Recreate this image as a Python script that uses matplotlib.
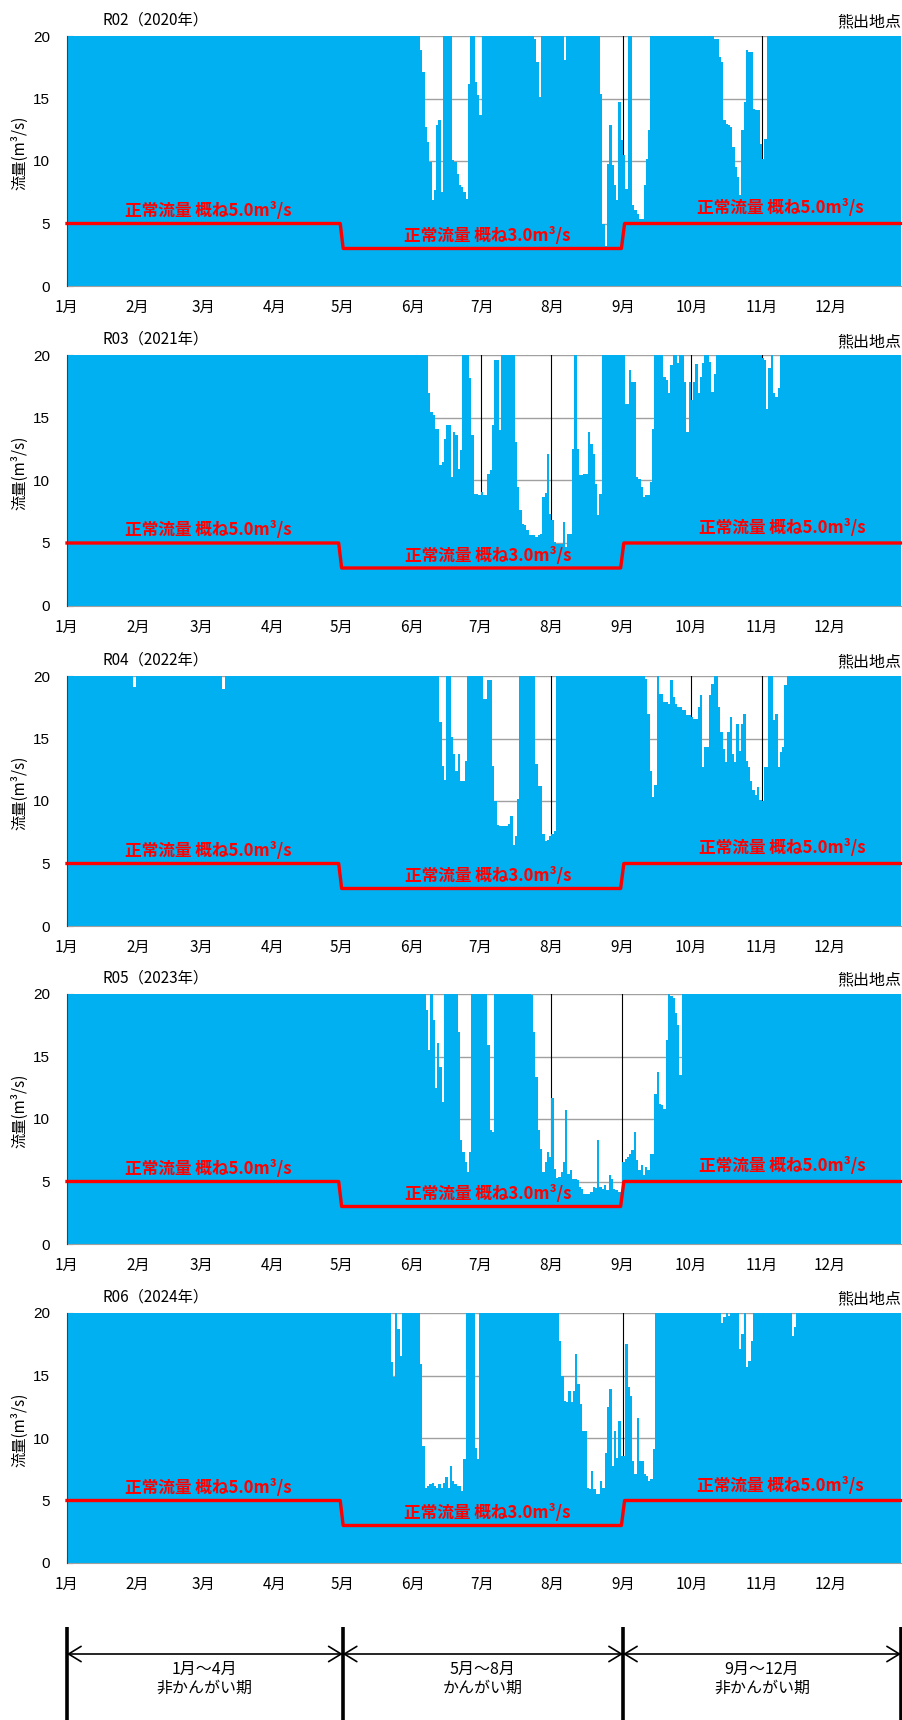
import calendar

import numpy as np
import matplotlib
matplotlib.use("Agg")
import matplotlib.pyplot as plt

plt.rcParams["font.family"] = ["Noto Sans CJK JP", "DejaVu Sans"]

# daily flow at 熊出地点 (m3/s); bars are clipped at 20
FLOW_R02 = [
    # Jan
    20, 20, 20, 20, 20, 20, 20, 20, 20, 20,  20, 20, 20, 20, 20, 20, 20, 20, 20, 20,  20, 20, 20, 20, 20, 20, 20, 20, 20, 20,  20,
    # Feb
    20, 20, 20, 20, 20, 20, 20, 20, 20, 20,  20, 20, 20, 20, 20, 20, 20, 20, 20, 20,  20, 20, 20, 20, 20, 20, 20, 20, 20,
    # Mar
    20, 20, 20, 20, 20, 20, 20, 20, 20, 20,  20, 20, 20, 20, 20, 20, 20, 20, 20, 20,  20, 20, 20, 20, 20, 20, 20, 20, 20, 20,  20,
    # Apr
    20, 20, 20, 20, 20, 20, 20, 20, 20, 20,  20, 20, 20, 20, 20, 20, 20, 20, 20, 20,  20, 20, 20, 20, 20, 20, 20, 20, 20, 20,
    # May
    20, 20, 20, 20, 20, 20, 20, 20, 20, 20,  20, 20, 20, 20, 20, 20, 20, 20, 20, 20,  20, 20, 20, 20, 20, 20, 20, 20, 20, 20,  20,
    # Jun
    20, 20, 20, 18.9, 17.1, 12.7, 11.5, 9.9, 6.9, 7.7,  12.9, 13.3, 7.5, 20, 20, 20, 20, 10.1, 9.9, 9.0,
    8.1, 7.9, 7.5, 7.0, 16.2, 20, 20, 16.3, 15.3, 13.7,
    # Jul
    20, 20, 20, 20, 20, 20, 20, 20, 20, 20,  20, 20, 20, 20, 20, 20, 20, 20, 20, 20,
    20, 20, 20, 19.8, 17.9, 15.1, 20, 20, 20, 20,  20,
    # Aug
    20, 20, 20, 20, 20, 18.1, 20, 20, 20, 20,  20, 20, 20, 20, 20, 20, 20, 20, 20, 20,
    20, 15.4, 5.0, 3.2, 9.8, 12.9, 9.7, 8.1, 6.9, 14.7,  11.7,
    # Sep
    10.5, 7.8, 20, 20, 6.5, 6.1, 5.8, 5.4, 5.4, 8.1,  10.2, 12.5, 20, 20, 20, 20, 20, 20, 20, 20,
    20, 20, 20, 20, 20, 20, 20, 20, 20, 20,
    # Oct
    20, 20, 20, 20, 20, 20, 20, 20, 20, 20,  19.8, 19.8, 18.3, 17.9, 13.3, 13.0, 12.9, 12.7, 11.1, 9.5,
    8.7, 7.3, 12.5, 14.7, 18.9, 18.7, 18.7, 14.2, 14.1, 14.1,  11.4,
    # Nov
    10.2, 11.8, 20, 20, 20, 20, 20, 20, 20, 20,  20, 20, 20, 20, 20, 20, 20, 20, 20, 20,  20, 20, 20, 20, 20, 20, 20, 20, 20, 20,
    # Dec
    20, 20, 20, 20, 20, 20, 20, 20, 20, 20,  20, 20, 20, 20, 20, 20, 20, 20, 20, 20,  20, 20, 20, 20, 20, 20, 20, 20, 20, 20,  20,
]

FLOW_R03 = [
    # Jan
    20, 20, 20, 20, 20, 20, 20, 20, 20, 20,  20, 20, 20, 20, 20, 20, 20, 20, 20, 20,  20, 20, 20, 20, 20, 20, 20, 20, 20, 20,  20,
    # Feb
    20, 20, 20, 20, 20, 20, 20, 20, 20, 20,  20, 20, 20, 20, 20, 20, 20, 20, 20, 20,  20, 20, 20, 20, 20, 20, 20, 20,
    # Mar
    20, 20, 20, 20, 20, 20, 20, 20, 20, 20,  20, 20, 20, 20, 20, 20, 20, 20, 20, 20,  20, 20, 20, 20, 20, 20, 20, 20, 20, 20,  20,
    # Apr
    20, 20, 20, 20, 20, 20, 20, 20, 20, 20,  20, 20, 20, 20, 20, 20, 20, 20, 20, 20,  20, 20, 20, 20, 20, 20, 20, 20, 20, 20,
    # May
    20, 20, 20, 20, 20, 20, 20, 20, 20, 20,  20, 20, 20, 20, 20, 20, 20, 20, 20, 20,  20, 20, 20, 20, 20, 20, 20, 20, 20, 20,  20,
    # Jun
    20, 20, 20, 20, 20, 20, 20, 17.0, 15.5, 15.2,  14.1, 14.1, 11.2, 11.5, 13.3, 14.4, 14.4, 10.3, 13.9, 13.6,
    10.9, 12.4, 20, 20, 20, 18.2, 13.6, 8.9, 8.9, 8.8,
    # Jul
    9.1, 8.8, 8.8, 10.5, 10.8, 14.4, 19.6, 19.6, 14.0, 20,  20, 20, 20, 20, 20, 13.1, 9.5, 7.6, 6.5, 6.4,
    6.0, 5.6, 5.6, 5.6, 5.5, 5.6, 5.7, 8.7, 9.0, 12.1,  7.3,
    # Aug
    6.8, 5.1, 4.9, 4.9, 4.9, 6.7, 4.7, 5.7, 5.7, 12.5,  20, 12.5, 10.4, 10.4, 10.5, 10.5, 13.9, 12.9, 12.1, 9.7,
    7.2, 8.9, 20, 20, 20, 20, 20, 20, 20, 20,  20,
    # Sep
    20, 16.1, 16.1, 18.8, 17.9, 17.9, 10.3, 10.1, 9.5, 8.7,  8.8, 8.8, 9.9, 14.1, 20, 20, 20, 20, 18.3, 18.0,
    17.0, 19.2, 20, 20, 19.4, 20, 20, 17.9, 13.9, 17.9,
    # Oct
    16.4, 17.9, 19.3, 17.0, 18.3, 19.4, 20, 20, 19.5, 17.1,  18.5, 20, 20, 20, 20, 20, 20, 20, 20, 20,
    20, 20, 20, 20, 20, 20, 20, 20, 20, 20,  20,
    # Nov
    19.8, 19.6, 15.7, 19.0, 20, 17.0, 16.7, 17.4, 20, 20,  20, 20, 20, 20, 20, 20, 20, 20, 20, 20,  20, 20, 20, 20, 20, 20, 20, 20, 20, 20,
    # Dec
    20, 20, 20, 20, 20, 20, 20, 20, 20, 20,  20, 20, 20, 20, 20, 20, 20, 20, 20, 20,  20, 20, 20, 20, 20, 20, 20, 20, 20, 20,  20,
]

FLOW_R04 = [
    # Jan
    20, 20, 20, 20, 20, 20, 20, 20, 20, 20,  20, 20, 20, 20, 20, 20, 20, 20, 20, 20,  20, 20, 20, 20, 20, 20, 20, 20, 20, 19.1,  20,
    # Feb
    20, 20, 20, 20, 20, 20, 20, 20, 20, 20,  20, 20, 20, 20, 20, 20, 20, 20, 20, 20,  20, 20, 20, 20, 20, 20, 20, 20,
    # Mar
    20, 20, 20, 20, 20, 20, 20, 20, 20, 19.0,  20, 20, 20, 20, 20, 20, 20, 20, 20, 20,  20, 20, 20, 20, 20, 20, 20, 20, 20, 20,  20,
    # Apr
    20, 20, 20, 20, 20, 20, 20, 20, 20, 20,  20, 20, 20, 20, 20, 20, 20, 20, 20, 20,  20, 20, 20, 20, 20, 20, 20, 20, 20, 20,
    # May
    20, 20, 20, 20, 20, 20, 20, 20, 20, 20,  20, 20, 20, 20, 20, 20, 20, 20, 20, 20,  20, 20, 20, 20, 20, 20, 20, 20, 20, 20,  20,
    # Jun
    20, 20, 20, 20, 20, 20, 20, 20, 20, 20,  20, 20, 16.3, 12.8, 11.7, 20, 20, 15.1, 13.8, 12.4,
    13.8, 11.6, 11.6, 13.2, 20, 20, 20, 20, 20, 20,
    # Jul
    20, 18.2, 18.2, 19.7, 19.7, 12.8, 10.0, 8.1, 8.0, 8.0,  8.0, 8.0, 8.2, 8.8, 6.5, 7.2, 10.2, 20, 20, 20,
    20, 20, 20, 20, 13.0, 11.2, 11.2, 7.4, 6.8, 6.9,  7.2,
    # Aug
    7.4, 7.6, 20, 20, 20, 20, 20, 20, 20, 20,  20, 20, 20, 20, 20, 20, 20, 20, 20, 20,  20, 20, 20, 20, 20, 20, 20, 20, 20, 20,  20,
    # Sep
    20, 20, 20, 20, 20, 20, 20, 20, 20, 20,  19.8, 17.0, 12.4, 10.3, 11.3, 20, 18.6, 18.6, 17.9, 17.9,
    17.8, 19.7, 18.3, 17.8, 17.5, 17.5, 17.3, 17.3, 16.9, 16.9,
    # Oct
    16.7, 16.6, 16.6, 17.5, 18.5, 12.7, 14.3, 14.3, 18.5, 19.4,  20, 20, 17.5, 15.5, 14.2, 13.1, 15.5, 16.7, 13.8, 13.1,
    16.2, 14.0, 16.2, 17.0, 13.2, 12.7, 11.6, 10.9, 10.5, 11.1,  10.1,
    # Nov
    10.0, 12.7, 12.7, 20, 20, 16.5, 17.0, 12.7, 13.9, 14.3,  19.3, 20, 20, 20, 20, 20, 20, 20, 20, 20,
    20, 20, 20, 20, 20, 20, 20, 20, 20, 20,
    # Dec
    20, 20, 20, 20, 20, 20, 20, 20, 20, 20,  20, 20, 20, 20, 20, 20, 20, 20, 20, 20,  20, 20, 20, 20, 20, 20, 20, 20, 20, 20,  20,
]

FLOW_R05 = [
    # Jan
    20, 20, 20, 20, 20, 20, 20, 20, 20, 20,  20, 20, 20, 20, 20, 20, 20, 20, 20, 20,  20, 20, 20, 20, 20, 20, 20, 20, 20, 20,  20,
    # Feb
    20, 20, 20, 20, 20, 20, 20, 20, 20, 20,  20, 20, 20, 20, 20, 20, 20, 20, 20, 20,  20, 20, 20, 20, 20, 20, 20, 20,
    # Mar
    20, 20, 20, 20, 20, 20, 20, 20, 20, 20,  20, 20, 20, 20, 20, 20, 20, 20, 20, 20,  20, 20, 20, 20, 20, 20, 20, 20, 20, 20,  20,
    # Apr
    20, 20, 20, 20, 20, 20, 20, 20, 20, 20,  20, 20, 20, 20, 20, 20, 20, 20, 20, 20,  20, 20, 20, 20, 20, 20, 20, 20, 20, 20,
    # May
    20, 20, 20, 20, 20, 20, 20, 20, 20, 20,  20, 20, 20, 20, 20, 20, 20, 20, 20, 20,  20, 20, 20, 20, 20, 20, 20, 20, 20, 20,  20,
    # Jun
    20, 20, 20, 20, 20, 20, 18.7, 15.5, 20, 17.9,  12.5, 16.1, 14.2, 11.4, 20, 20, 20, 20, 20, 20,
    17.0, 8.3, 7.4, 6.6, 5.8, 7.4, 20, 20, 20, 20,
    # Jul
    20, 20, 20, 15.9, 9.1, 9.0, 20, 20, 20, 20,  20, 20, 20, 20, 20, 20, 20, 20, 20, 20,
    20, 20, 19.9, 17.0, 13.4, 9.1, 7.6, 5.8, 6.6, 7.4,  7.0,
    # Aug
    11.7, 6.0, 5.3, 5.4, 5.8, 6.6, 10.7, 5.6, 5.9, 5.2,  5.2, 5.1, 4.6, 4.4, 4.0, 4.0, 4.0, 4.2, 4.6, 4.5,
    8.3, 4.6, 4.4, 4.7, 4.3, 5.5, 5.2, 4.4, 4.3, 4.2,  4.2,
    # Sep
    6.6, 6.8, 7.0, 7.2, 7.5, 9.0, 6.7, 5.9, 6.3, 5.5,  6.2, 5.9, 7.2, 7.2, 12.0, 13.8, 11.2, 11.1, 10.8, 16.3,
    20, 19.8, 19.7, 18.5, 17.5, 13.5, 20, 20, 20, 20,
    # Oct
    20, 20, 20, 20, 20, 20, 20, 20, 20, 20,  20, 20, 20, 20, 20, 20, 20, 20, 20, 20,  20, 20, 20, 20, 20, 20, 20, 20, 20, 20,  20,
    # Nov
    20, 20, 20, 20, 20, 20, 20, 20, 20, 20,  20, 20, 20, 20, 20, 20, 20, 20, 20, 20,  20, 20, 20, 20, 20, 20, 20, 20, 20, 20,
    # Dec
    20, 20, 20, 20, 20, 20, 20, 20, 20, 20,  20, 20, 20, 20, 20, 20, 20, 20, 20, 20,  20, 20, 20, 20, 20, 20, 20, 20, 20, 20,  20,
]

FLOW_R06 = [
    # Jan
    20, 20, 20, 20, 20, 20, 20, 20, 20, 20,  20, 20, 20, 20, 20, 20, 20, 20, 20, 20,  20, 20, 20, 20, 20, 20, 20, 20, 20, 20,  20,
    # Feb
    20, 20, 20, 20, 20, 20, 20, 20, 20, 20,  20, 20, 20, 20, 20, 20, 20, 20, 20, 20,  20, 20, 20, 20, 20, 20, 20, 20, 20,
    # Mar
    20, 20, 20, 20, 20, 20, 20, 20, 20, 20,  20, 20, 20, 20, 20, 20, 20, 20, 20, 20,  20, 20, 20, 20, 20, 20, 20, 20, 20, 20,  20,
    # Apr
    20, 20, 20, 20, 20, 20, 20, 20, 20, 20,  20, 20, 20, 20, 20, 20, 20, 20, 20, 20,  20, 20, 20, 20, 20, 20, 20, 20, 20, 20,
    # May
    20, 20, 20, 20, 20, 20, 20, 20, 20, 20,  20, 20, 20, 20, 20, 20, 20, 20, 20, 20,
    20, 16.1, 14.9, 20, 18.7, 16.6, 20, 20, 20, 20,  20,
    # Jun
    20, 20, 20, 15.9, 9.4, 6.0, 6.2, 6.3, 6.4, 6.2,  6.0, 6.3, 6.0, 6.4, 6.9, 6.0, 7.8, 6.6, 6.3, 6.2,
    6.2, 5.8, 8.3, 20, 20, 20, 20, 9.2, 8.3, 20,
    # Jul
    20, 20, 20, 20, 20, 20, 20, 20, 20, 20,  20, 20, 20, 20, 20, 20, 20, 20, 20, 20,  20, 20, 20, 20, 20, 20, 20, 20, 20, 20,  20,
    # Aug
    20, 20, 20, 17.8, 15.0, 13.0, 12.9, 13.8, 12.9, 13.8,  16.7, 14.3, 12.7, 10.6, 10.6, 6.0, 5.9, 7.4, 5.9, 5.5,
    5.5, 6.6, 6.0, 8.8, 12.5, 13.9, 7.8, 10.6, 8.4, 11.4,  8.6,
    # Sep
    8.6, 17.5, 14.1, 13.4, 8.2, 7.1, 11.6, 8.2, 8.2, 7.1,  7.0, 6.6, 6.7, 9.1, 20, 20, 20, 20, 20, 20,
    20, 20, 20, 20, 20, 20, 20, 20, 20, 20,
    # Oct
    20, 20, 20, 20, 20, 20, 20, 20, 20, 20,  20, 20, 20, 19.2, 19.7, 20, 19.8, 20, 20, 20,
    20, 17.1, 18.3, 20, 15.7, 16.2, 17.8, 20, 20, 20,  20,
    # Nov
    20, 20, 20, 20, 20, 20, 20, 20, 20, 20,  20, 20, 20, 18.2, 18.9, 20, 20, 20, 20, 20,
    20, 20, 20, 20, 20, 20, 20, 20, 20, 20,
    # Dec
    20, 20, 20, 20, 20, 20, 20, 20, 20, 20,  20, 20, 20, 20, 20, 20, 20, 20, 20, 20,  20, 20, 20, 20, 20, 20, 20, 20, 20, 20,  20,
]

YEARS = [2020, 2021, 2022, 2023, 2024]
PANEL_TITLES = ["R02（2020年）", "R03（2021年）", "R04（2022年）", "R05（2023年）", "R06（2024年）"]
FLOWS = [FLOW_R02, FLOW_R03, FLOW_R04, FLOW_R05, FLOW_R06]

STATION = "熊出地点"
MONTH_LABELS = [f"{m}月" for m in range(1, 13)]
Y_TICKS = [0, 5, 10, 15, 20]

# normal flow for Jan-Apr, May-Aug, Sep-Dec
NORMAL_FLOW = [5.0, 3.0, 5.0]
NORMAL_LABELS = ["正常流量 概ね5.0m³/s", "正常流量 概ね3.0m³/s", "正常流量 概ね5.0m³/s"]
PERIOD_TEXTS = ["1月～4月\n非かんがい期", "5月～8月\nかんがい期", "9月～12月\n非かんがい期"]

BAR_COLOR = "#00B0F0"
W, H = 903, 1720
AX_LEFT, AX_WIDTH, AX_HEIGHT = 67, 834, 250
PANEL_TOPS = [36, 355.5, 676, 994, 1313]


def month_starts(year):
    starts = [0]
    for m in range(1, 13):
        starts.append(starts[-1] + calendar.monthrange(year, m)[1])
    return starts


def draw_panel(fig, top, year, flow, title):
    starts = month_starts(year)
    ndays = starts[-1]
    assert len(flow) == ndays, (year, len(flow))

    ax = fig.add_axes([AX_LEFT / W, 1 - (top + AX_HEIGHT) / H, AX_WIDTH / W, AX_HEIGHT / H])
    ax.bar(np.arange(ndays), flow, width=1.0, align="edge",
           color=BAR_COLOR, linewidth=0, zorder=2)

    # grid: gray at every 5, black at month starts, both under the bars
    for yv in Y_TICKS[1:]:
        ax.axhline(yv, color="#A0A0A0", lw=1.0, zorder=1)
    for ms in starts[1:12]:
        ax.axvline(ms, color="black", lw=0.8, zorder=1)

    # normal flow step line
    may, sep = starts[4], starts[8]
    px = [0, may - 1.1, may + 0.2, sep - 0.7, sep + 0.7, ndays]
    py = [NORMAL_FLOW[0], NORMAL_FLOW[0], NORMAL_FLOW[1],
          NORMAL_FLOW[1], NORMAL_FLOW[2], NORMAL_FLOW[2]]
    ax.plot(px, py, color="#FF0000", lw=2.4, zorder=4, clip_on=False)

    label_x = [62, 184.5, 313]
    label_y = [6.0, 4.0, 6.2]
    for lx, ly, txt in zip(label_x, label_y, NORMAL_LABELS):
        ax.text(lx, ly, txt, color="#FF0000", fontsize=12, fontweight="bold",
                ha="center", va="center", zorder=5)

    ax.set_xlim(0, ndays)
    ax.set_ylim(0, 20)
    ax.set_xticks(starts[:12])
    ax.set_xticklabels(MONTH_LABELS, fontsize=11)
    ax.set_yticks(Y_TICKS)
    ax.set_yticklabels([str(v) for v in Y_TICKS], fontsize=11,
                       family=["Liberation Sans", "DejaVu Sans"])
    ax.tick_params(axis="x", direction="in", length=3, color="#909090", pad=9.5)
    ax.tick_params(axis="y", direction="in", length=4, color="#404040", pad=12)

    for side in ("top", "right"):
        ax.spines[side].set_visible(False)
    ax.spines["left"].set_color("#404040")
    ax.spines["bottom"].set_color("#A0A0A0")
    ax.spines["left"].set_zorder(6)

    fig.text(103 / W, 1 - (top - 16) / H, title, fontsize=11, ha="left", va="center")
    fig.text(901 / W, 1 - (top - 14) / H, STATION, fontsize=11.5, ha="right", va="center")
    fig.text(20 / W, 1 - (top + AX_HEIGHT / 2 - 8) / H, "流量(m³/s)", fontsize=11,
             rotation=90, ha="center", va="center")
    return ax


def draw_periods(fig, year):
    starts = month_starts(year)
    bounds = [starts[0], starts[4], starts[8], starts[12]]
    ax = fig.add_axes([AX_LEFT / W, 0, AX_WIDTH / W, 120 / H])
    ax.set_xlim(0, starts[12])
    ax.set_ylim(1720, 1600)
    ax.axis("off")

    ax.vlines(bounds, 1627, 1720, color="black", lw=2.6, clip_on=False)
    for x0, x1, txt in zip(bounds[:-1], bounds[1:], PERIOD_TEXTS):
        ax.annotate("", xy=(x1, 1654), xytext=(x0, 1654),
                    arrowprops=dict(arrowstyle="<->,head_length=0.9,head_width=0.55",
                                    mutation_scale=10, lw=1.2, color="black",
                                    shrinkA=0, shrinkB=0),
                    annotation_clip=False)
        ax.text((x0 + x1) / 2, 1679, txt, fontsize=11.5, ha="center", va="center",
                linespacing=1.1)


def main():
    fig = plt.figure(figsize=(W / 100, H / 100), dpi=100)
    for top, year, flow, title in zip(PANEL_TOPS, YEARS, FLOWS, PANEL_TITLES):
        draw_panel(fig, top, year, flow, title)
    draw_periods(fig, YEARS[-1])
    fig.savefig("out.png", dpi=100)
    plt.close(fig)


if __name__ == "__main__":
    main()
